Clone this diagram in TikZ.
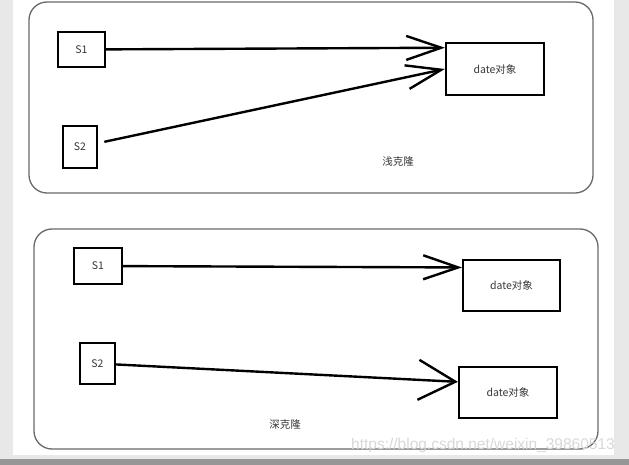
\documentclass[tikz,border=0pt]{standalone}
\usepackage{fontspec}
\setmainfont{Noto Sans CJK SC}
\newfontfamily\markfont{Liberation Sans}
\usetikzlibrary{arrows.meta}

\definecolor{pagegray}{RGB}{232,232,232}
\definecolor{bargray}{RGB}{150,150,150}
\definecolor{framegray}{RGB}{105,105,105}
\definecolor{inkgray}{RGB}{55,55,55}
\definecolor{markgray}{RGB}{216,216,216}

\tikzset{
  panel/.style={draw=framegray, line width=1.3pt, rounded corners=18pt},
  objbox/.style={draw, line width=2.2pt, inner sep=0pt, text=inkgray,
    font=\fontsize{10.5}{12}\selectfont},
  clonetext/.style={text=inkgray, font=\fontsize{10.5}{12}\selectfont},
  ref/.style={line width=2.4pt, line cap=round,
    -{Straight Barb[length=35pt, width=24pt]}},
  wideref/.style={ref, -{Straight Barb[length=37pt, width=40pt]}},
}

\begin{document}
\begin{tikzpicture}[x=1pt, y=-1pt]
  % page and screen border
  \fill[pagegray] (0,0) rectangle (629,465);
  \fill[white] (13,0) rectangle (614,455);
  \fill[bargray] (0,459) rectangle (629,465);
  \useasboundingbox (0,0) rectangle (629,465);

  % shallow clone
  \draw[panel] (29,2) rectangle (593,193);
  \node[objbox, minimum width=47pt, minimum height=35pt] (s1) at (81.5,49.5) {S1};
  \node[objbox, minimum width=34pt, minimum height=42pt] (s2) at (80,147) {S2};
  \node[objbox, minimum width=98pt, minimum height=52pt] (d1) at (495,69) {date对象};
  \node[clonetext] (shallow) at (398,162) {浅克隆};

  \draw[ref] (s1) -- (d1.157);
  \draw[ref, shorten <=7pt] (s2) -- (d1.west);

  % deep clone
  \draw[panel] (34,229) rectangle (598,449);
  \node[objbox, minimum width=48pt, minimum height=36pt] (t1) at (98,266) {S1};
  \node[objbox, minimum width=35pt, minimum height=41pt] (t2) at (97.5,363.5) {S2};
  \node[objbox, minimum width=97pt, minimum height=51pt] (d2) at (511.5,285.5) {date对象};
  \node[objbox, minimum width=98pt, minimum height=51pt] (d3) at (508,392.5) {date对象};
  \node[clonetext] (deep) at (285,425) {深克隆};

  \draw[ref] (t1) -- (d2.160);
  \draw[wideref] (t2) -- (d3.168);

  \node[text=markgray, font=\markfont\fontsize{15.5}{18}\selectfont] (mark) at (483,445)
    {https://blog.csdn.net/weixin\_39860513};
\end{tikzpicture}
\end{document}
